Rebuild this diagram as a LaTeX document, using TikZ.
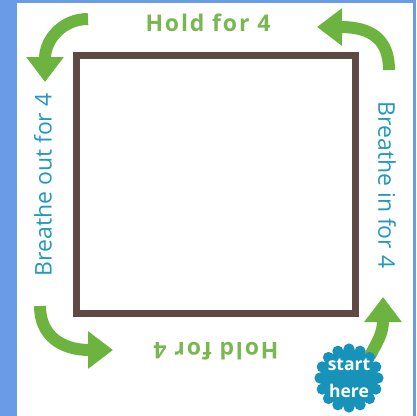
\documentclass[tikz,border=0pt]{standalone}
\usepackage{fontspec}
\setmainfont{Open Sans}
\newfontfamily\holdfont[LetterSpace=8]{Open Sans}
\usetikzlibrary{arrows.meta}
\definecolor{frameblue}{HTML}{6A9BE6}
\definecolor{boxbrown}{HTML}{5E4A42}
\definecolor{arrowgreen}{HTML}{6CB43F}
\definecolor{holdgreen}{HTML}{79B851}
\definecolor{breathteal}{HTML}{2299BE}
\definecolor{badgeteal}{HTML}{1792B8}
\tikzset{
  greenarrow/.style={draw=arrowgreen, line width=12pt, -{Triangle[length=25pt,width=36pt]}},
  holdtext/.style={text=holdgreen, font=\holdfont\bfseries\fontsize{23}{27}\selectfont, inner sep=0pt},
  breathtext/.style={text=breathteal, font=\fontsize{23}{27}\selectfont, inner sep=0pt},
}
\begin{document}
\begin{tikzpicture}[x=1pt,y=-1pt]
\useasboundingbox (0,0) rectangle (416,416);
\fill[white] (0,0) rectangle (416,416);
\fill[frameblue] (0,0) rectangle (17,416);
\fill[frameblue] (0,0) rectangle (416,3);
\fill[frameblue] (413,0) rectangle (416,416);
\draw[boxbrown, line width=7pt] (76.5,55.5) rectangle (355.5,313.5);

\node[holdtext] (holdtop) at (208,23) {Hold for 4};
\node[holdtext, rotate=180] (holdbot) at (216,351) {Hold for 4};
\node[breathtext, rotate=-90] (breathin) at (387,185) {Breathe in for 4};
\node[breathtext, rotate=90] (breathout) at (43,185) {Breathe out for 4};

\coordinate (tlA) at (88,19);
\coordinate (tlB) at (45,82);
\coordinate (trA) at (389,70);
\coordinate (trB) at (317,27);
\coordinate (blA) at (40,306);
\coordinate (blB) at (113,350);
\coordinate (brA) at (370,356);
\coordinate (brB) at (383,297);

\draw[greenarrow] (tlA) .. controls (62,19) and (45,40) .. (tlB);
\draw[greenarrow] (trA) .. controls (389,40) and (372,27) .. (trB);
\draw[greenarrow] (blA) .. controls (40,336) and (62,350) .. (blB);
\draw[greenarrow] (brA) .. controls (377,342) and (383,334) .. (brB);

\coordinate (badge) at (349,378);
\fill[badgeteal] (badge) circle (29);
\foreach \a in {0,22.5,...,337.5} \fill[badgeteal] (badge) ++(\a:29) circle (5.6);
\node[text=white, font=\bfseries\fontsize{17.5}{27}\selectfont, align=center, inner sep=0pt] (start) at (badge) {start\\here};
\end{tikzpicture}
\end{document}
